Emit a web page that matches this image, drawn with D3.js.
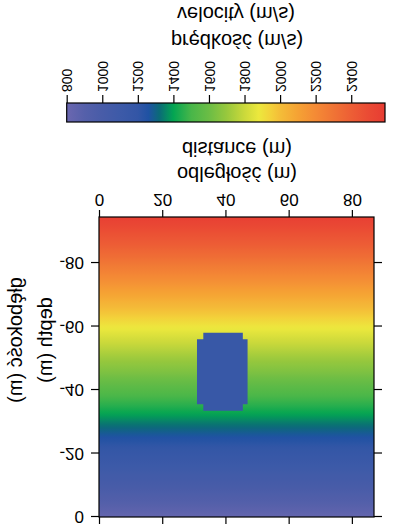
<!DOCTYPE html>
<html>
<head>
<meta charset="utf-8">
<script src="https://cdn.jsdelivr.net/npm/d3@7"></script>
<style>
  body { margin: 0; background: #fff; }
  text { font-family: "Liberation Sans", Arial, sans-serif; fill: #000; }
</style>
</head>
<body>
<div id="chart"></div>
<script>
// DATA
////////////////////////////
// velocity profile of the background model (depth in m, velocity in m/s)
var profileDepth = [0, -5, -10, -15, -20, -25, -30, -35, -40, -45, -50, -55, -60, -65, -70, -75, -80, -85, -90, -94.5];
var profileVel   = [830, 920, 1010, 1090, 1170, 1255, 1350, 1450, 1540, 1630, 1710, 1800, 1890, 1990, 2090, 2190, 2290, 2390, 2480, 2570];

// low velocity block (outline in distance / depth)
var blockX = [33, 45.5, 45.5, 47, 47, 45.5, 45.5, 33, 33, 31, 31, 33];
var blockDepth = [-33.5, -33.5, -35.5, -35.5, -56, -56, -58, -58, -56, -56, -35.5, -35.5];
var blockVel = 1150;

// colour scale stops
var cbVel = [800, 900, 1000, 1100, 1200, 1260, 1320, 1400, 1500, 1600, 1700, 1800, 1880, 1950, 2000, 2100, 2200, 2300, 2400, 2500, 2590];
var cbColor = ["#6b67b0", "#5560aa", "#485ca8", "#3d5aa8", "#3356a6", "#1f52a3", "#0b6a78", "#03a552", "#48b649", "#6bbd45",
               "#98c83d", "#cbd93b", "#ece83d", "#f3d03a", "#f4bd38", "#f5a234", "#f48a35", "#f07435", "#ed5e35", "#ea4a34", "#e73c33"];

// ticks
var xTicks = [0, 20, 40, 60, 80];
var yTicks = [0, -20, -40, -60, -80];
var cbTicks = [800, 1000, 1200, 1400, 1600, 1800, 2000, 2200, 2400];


// SETUP
////////////////////////////
var width = 394,
    height = 530;

var svg = d3.select("#chart").append("svg")
    .attr("width", width)
    .attr("height", height);

var defs = svg.append("defs");

// the whole figure is shown upside down (mirrored top to bottom)
var g = svg.append("g")
    .attr("transform", "translate(0," + height + ") scale(1,-1)");

var x = d3.scaleLinear().domain([0, 87]).range([99, 374]);
var y = d3.scaleLinear().domain([0, -94.5]).range([13, 313]);
var color = d3.scaleLinear().domain(cbVel).range(cbColor);
var cb = d3.scaleLinear().domain([800, 2590]).range([66.7, 385]);
var velAt = d3.scaleLinear().domain(profileDepth).range(profileVel);


// MODEL
////////////////////////////
// vertical gradient through the velocity profile, sampled each metre
var grad = defs.append("linearGradient")
    .attr("id", "model")
    .attr("gradientUnits", "userSpaceOnUse")
    .attr("x1", 0).attr("x2", 0)
    .attr("y1", y(0)).attr("y2", y(-94.5));

grad.selectAll("stop")
  .data(d3.range(0, -95, -1).concat([-94.5]))
  .enter().append("stop")
    .attr("offset", function(d) { return d / -94.5; })
    .attr("stop-color", function(d) { return color(velAt(d)); });

g.append("rect")
    .attr("x", x(0))
    .attr("y", y(0))
    .attr("width", x(87) - x(0))
    .attr("height", y(-94.5) - y(0))
    .attr("fill", "url(#model)");

var block = blockX.map(function(d, i) { return [x(d), y(blockDepth[i])]; });
g.append("path")
    .attr("d", d3.line()(block) + "Z")
    .attr("fill", color(blockVel));

g.append("rect")
    .attr("x", x(0))
    .attr("y", y(0))
    .attr("width", x(87) - x(0))
    .attr("height", y(-94.5) - y(0))
    .attr("fill", "none")
    .attr("stroke", "#000")
    .attr("stroke-width", 1.2);

// axes on all four sides, labels only bottom / left
function styleAxis(sel) {
  sel.select(".domain").remove();
  sel.selectAll("line").attr("stroke", "#000").attr("stroke-width", 1.2);
  sel.selectAll("text").style("font-size", "17px");
}

g.append("g")
    .attr("transform", "translate(0," + y(-94.5) + ")")
    .call(d3.axisBottom(x).tickValues(xTicks).tickSize(7).tickPadding(4))
    .call(styleAxis);

g.append("g")
    .attr("transform", "translate(0," + y(0) + ")")
    .call(d3.axisTop(x).tickValues(xTicks).tickSize(7).tickFormat(""))
    .call(styleAxis);

g.append("g")
    .attr("transform", "translate(" + x(0) + ",0)")
    .call(d3.axisLeft(y).tickValues(yTicks).tickSize(8).tickPadding(7)
      .tickFormat(function(d) { return String(d); }))
    .call(styleAxis);

g.append("g")
    .attr("transform", "translate(" + x(87) + ",0)")
    .call(d3.axisRight(y).tickValues(yTicks).tickSize(8).tickFormat(""))
    .call(styleAxis);

// axis titles
g.append("text")
    .attr("x", 237).attr("y", 363)
    .attr("text-anchor", "middle")
    .style("font-size", "20px")
    .text("odległość (m)");

g.append("text")
    .attr("x", 237).attr("y", 388)
    .attr("text-anchor", "middle")
    .style("font-size", "20px")
    .text("distance (m)");

g.append("text")
    .attr("transform", "translate(22,190) rotate(-90)")
    .attr("text-anchor", "middle")
    .style("font-size", "20px")
    .text("głębokość (m)");

g.append("text")
    .attr("transform", "translate(52,190) rotate(-90)")
    .attr("text-anchor", "middle")
    .style("font-size", "20px")
    .text("depth (m)");


// COLOUR BAR
////////////////////////////
var cbGrad = defs.append("linearGradient")
    .attr("id", "cbar")
    .attr("gradientUnits", "userSpaceOnUse")
    .attr("x1", cb(800)).attr("x2", cb(2590))
    .attr("y1", 0).attr("y2", 0);

cbGrad.selectAll("stop")
  .data(cbVel)
  .enter().append("stop")
    .attr("offset", function(d) { return (d - 800) / (2590 - 800); })
    .attr("stop-color", function(d) { return color(d); });

g.append("rect")
    .attr("x", cb(800))
    .attr("y", 408)
    .attr("width", cb(2590) - cb(800))
    .attr("height", 19)
    .attr("fill", "url(#cbar)")
    .attr("stroke", "#000")
    .attr("stroke-width", 1.2);

var cbAxis = g.append("g")
    .attr("transform", "translate(0,427)")
    .call(d3.axisBottom(cb).tickValues(cbTicks).tickSize(8).tickFormat(function(d) { return String(d); }))
    .call(styleAxis);

cbAxis.selectAll("text")
    .attr("y", 0)
    .attr("x", 11)
    .attr("dy", ".35em")
    .attr("transform", "rotate(90)")
    .style("text-anchor", "start")
    .style("font-size", "14px");

g.append("text")
    .attr("x", 237).attr("y", 496)
    .attr("text-anchor", "middle")
    .style("font-size", "20px")
    .text("prędkość (m/s)");

g.append("text")
    .attr("x", 236).attr("y", 523)
    .attr("text-anchor", "middle")
    .style("font-size", "20px")
    .text("velocity (m/s)");
</script>
</body>
</html>
